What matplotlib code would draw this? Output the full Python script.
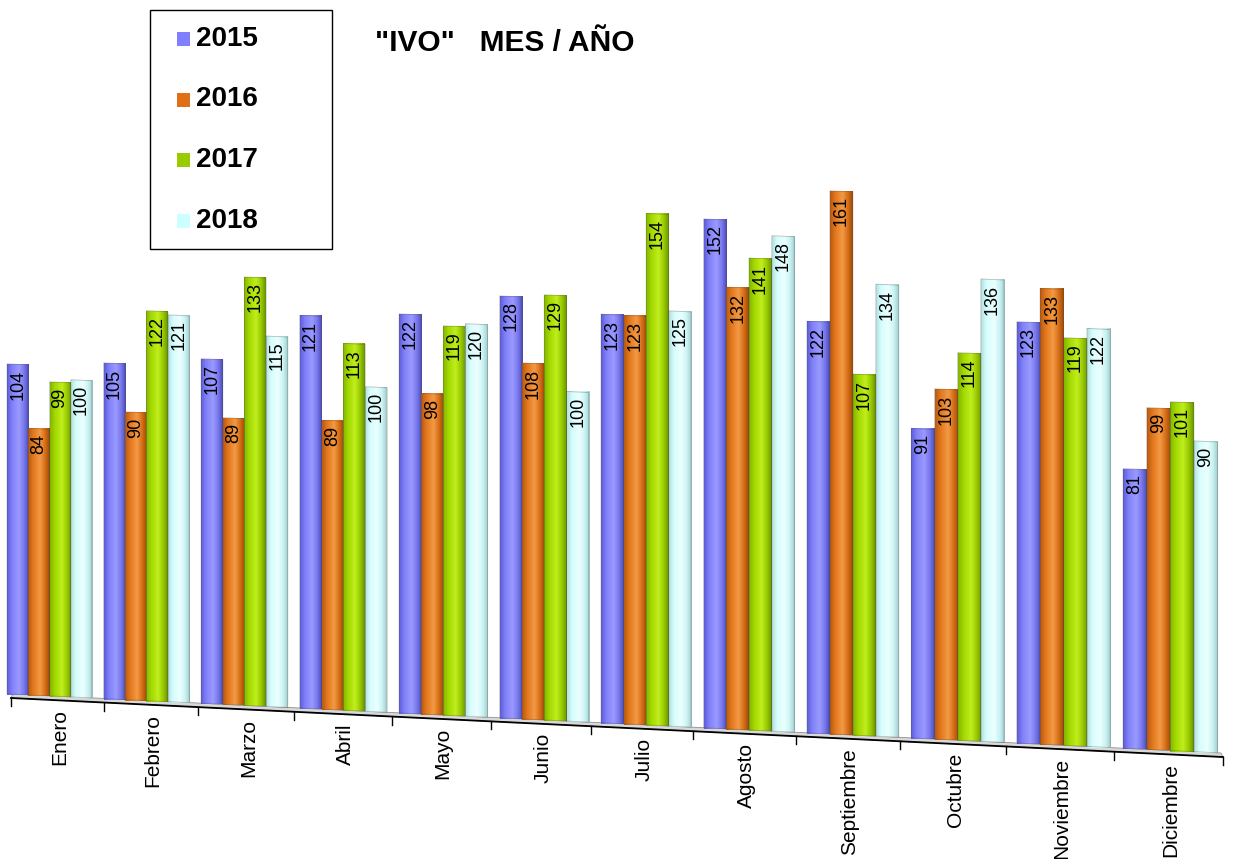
import matplotlib
matplotlib.use("Agg")
import matplotlib.pyplot as plt
import numpy as np
from matplotlib.colors import LinearSegmentedColormap
from matplotlib.patches import Polygon, Rectangle
from matplotlib.transforms import Affine2D

MONTHS = ["Enero", "Febrero", "Marzo", "Abril", "Mayo", "Junio", "Julio",
          "Agosto", "Septiembre", "Octubre", "Noviembre", "Diciembre"]
YEARS = ["2015", "2016", "2017", "2018"]
V2015 = [104, 105, 107, 121, 122, 128, 123, 152, 122, 91, 123, 81]
V2016 = [84, 90, 89, 89, 98, 108, 123, 132, 161, 103, 133, 99]
V2017 = [99, 122, 133, 113, 119, 129, 154, 141, 107, 114, 119, 101]
V2018 = [100, 121, 115, 100, 120, 100, 125, 148, 134, 136, 122, 90]
SERIES = [V2015, V2016, V2017, V2018]

# cylinder shading: left edge, body, highlight, body, right edge
SHADES = [
    ["#5c5cd6", "#8080fa", "#9a9aff", "#7676ec", "#4a4ab4"],
    ["#b85a10", "#e2761c", "#f39a45", "#d46c14", "#9c4a08"],
    ["#84b400", "#a2d800", "#c0ee1e", "#96c800", "#6a9400"],
    ["#b4e0e0", "#d6fdfd", "#ecffff", "#c8f2f2", "#a2cccc"],
]
BASE = ["#8080ff", "#e07018", "#99cc00", "#ccffff"]

W, H = 1235, 859
FONT = "Liberation Sans"

# fake 3D floor: the Excel chart is drawn in perspective
def month_center(i):
    return 49.5 + 96.5 * i + 0.49 * i * i

def month_pitch(i):
    return 96.5 + 0.98 * i

def cell_edge(j):
    return 11 + 93 * j + 0.727 * j * (j - 1)

def floor_y(px):
    return 698 + 0.0487 * (px - 11)

def px_per_unit(px):
    return 3.16 + 0.00025 * px


fig = plt.figure(figsize=(W / 100, H / 100), dpi=100)
ax = fig.add_axes([0, 0, 1, 1])
ax.set_autoscale_on(False)
ax.set_xlim(0, W)
ax.set_ylim(H, 0)
ax.axis("off")

# floor slab
x0, x1 = cell_edge(0), cell_edge(12)
ax.add_patch(Polygon([(x0, floor_y(x0)), (x1, floor_y(x1)),
                      (x1 - 2, floor_y(x1) - 4), (x0 + 2, floor_y(x0) - 4)],
                     closed=True, facecolor="#d8d8d8", edgecolor="#909090",
                     lw=0.6, zorder=1))
ax.plot([x0, x1], [floor_y(x0), floor_y(x1)], color="black", lw=1.3, zorder=1.5)
for j in range(13):
    xe = cell_edge(j)
    ax.plot([xe, xe], [floor_y(xe), floor_y(xe) + 8], color="black", lw=1.0,
            zorder=1.5)

offsets = np.arange(4) - 1.5
for i, month in enumerate(MONTHS):
    c = month_center(i)
    bw = month_pitch(i) * 0.22
    k = px_per_unit(c)
    base = floor_y(c) - 4
    # local bar units -> canvas pixels (slight slope follows the floor)
    local = Affine2D(np.array([[bw, 0.0, c],
                               [bw * 0.0487, -k, base],
                               [0.0, 0.0, 1.0]]))
    trans = local + ax.transData
    for s, vals in enumerate(SERIES):
        v = vals[i]
        bars = ax.bar(offsets[s], v, width=1.0, align="center", bottom=0,
                      color="none", edgecolor=(0.3, 0.3, 0.3, 0.35), lw=0.6,
                      transform=trans, zorder=3)
        patch = bars.patches[0]
        corners = local.transform([[offsets[s] - 0.5, 0], [offsets[s] + 0.5, 0],
                                   [offsets[s] - 0.5, v], [offsets[s] + 0.5, v]])
        cmap = LinearSegmentedColormap.from_list(
            f"cyl{s}", list(zip([0, 0.22, 0.55, 0.8, 1.0], SHADES[s])))
        grad = np.linspace(0, 1, 64).reshape(1, -1)
        im = ax.imshow(grad, cmap=cmap, aspect="auto", interpolation="bilinear",
                       extent=(corners[:, 0].min(), corners[:, 0].max(),
                               corners[:, 1].max(), corners[:, 1].min()),
                       zorder=2)
        im.set_clip_path(patch)
        ax.annotate(str(v), xy=(offsets[s], v), xycoords=trans,
                    xytext=(0, -5), textcoords="offset pixels",
                    rotation=90, ha="center", va="top", fontsize=13,
                    family=FONT, color="black", zorder=4)
    lx = (cell_edge(i) + cell_edge(i + 1)) / 2 + 2
    ax.text(lx, floor_y(lx) + 9, month, rotation=90, ha="center", va="top",
            fontsize=15, family=FONT)

ax.set_xlim(0, W)
ax.set_ylim(H, 0)

# legend box (drawn by hand to match the tall Excel legend)
ax.add_patch(Rectangle((150, 10), 182, 239, facecolor="white",
                       edgecolor="black", lw=1.0, zorder=5))
for s, year in enumerate(YEARS):
    yc = 39 + 60.5 * s
    ax.add_patch(Rectangle((177, yc - 7), 13, 14, facecolor=BASE[s],
                           edgecolor="none", zorder=6))
    ax.text(196, yc, year, ha="left", va="center", fontsize=20,
            fontweight="bold", family=FONT, zorder=6)

ax.text(505, 43, '"IVO"   MES / AÑO', ha="center", va="center", fontsize=21.5,
        fontweight="bold", family=FONT)

fig.savefig("out.png", dpi=100)
plt.close(fig)
